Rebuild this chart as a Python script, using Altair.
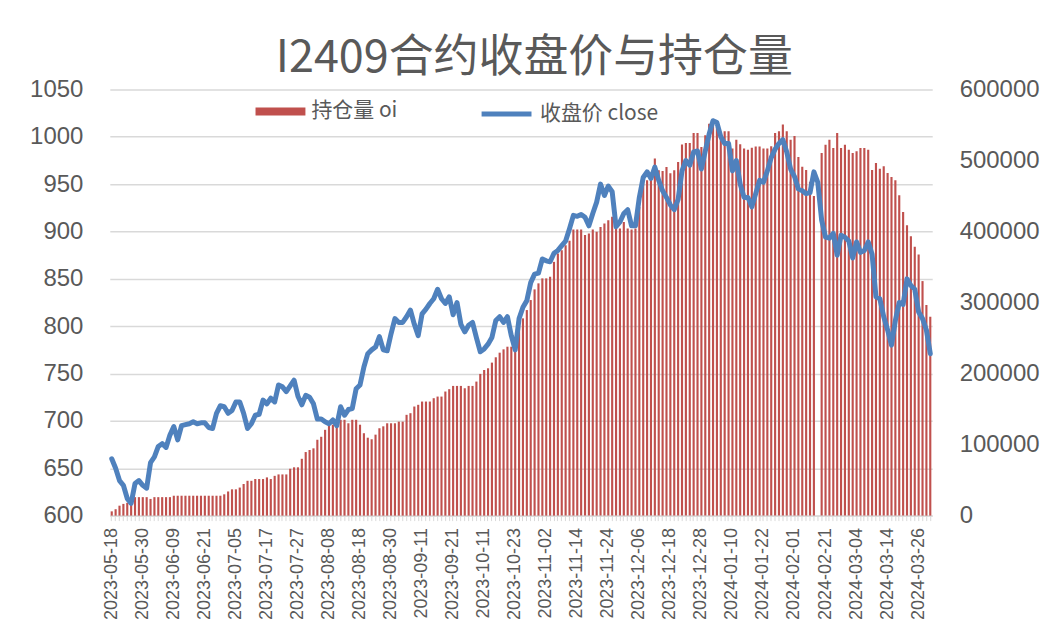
import json
import altair as alt
import pandas as pd

# ---- categories: Chinese futures trading days 2023-05-18 .. 2024-03-29 ----
start_date = "2023-05-18"
end_date = "2024-03-29"
holidays = ["2023-06-22", "2023-06-23", "2023-09-29", "2023-10-02", "2023-10-03",
            "2023-10-04", "2023-10-05", "2023-10-06", "2024-01-01", "2024-02-09",
            "2024-02-12", "2024-02-13", "2024-02-14", "2024-02-15", "2024-02-16"]
dates = [d.strftime("%Y-%m-%d") for d in pd.bdate_range(start_date, end_date)
         if d.strftime("%Y-%m-%d") not in holidays]

label_dates = ["2023-05-18", "2023-05-30", "2023-06-09", "2023-06-21", "2023-07-05",
               "2023-07-17", "2023-07-27", "2023-08-08", "2023-08-18", "2023-08-30",
               "2023-09-11", "2023-09-21", "2023-10-11", "2023-10-23", "2023-11-02",
               "2023-11-14", "2023-11-24", "2023-12-06", "2023-12-18", "2023-12-28",
               "2024-01-10", "2024-01-22", "2024-02-01", "2024-02-21", "2024-03-04",
               "2024-03-14", "2024-03-26"]

# ---- series: closing price (left axis) ----
close = [
    660, 650, 637, 632, 618, 613, 634, 637, 632, 629,
    656, 662, 673, 676, 672, 685, 694, 680, 695, 696,
    697, 699, 697, 698, 698, 693, 692, 708, 716, 715,
    708, 711, 720, 720, 708, 692, 697, 706, 707, 722,
    718, 724, 720, 738, 736, 731, 737, 743, 726, 717,
    727, 725, 718, 702, 702, 699, 697, 701, 695, 715,
    706, 712, 713, 734, 738, 757, 771, 775, 778, 789,
    775, 774, 792, 808, 804, 804, 810, 817, 802, 790,
    813, 818, 824, 829, 839, 829, 824, 831, 812, 825,
    802, 794, 801, 804, 788, 773, 776, 781, 788, 806,
    810, 804, 810, 790, 775, 808, 820, 827, 846, 855,
    856, 871, 869, 868, 877, 880, 885, 890, 903, 917,
    916, 918, 915, 906, 919, 931, 950, 938, 948, 942,
    905, 910, 919, 923, 906, 906, 936, 957, 963, 956,
    968, 954, 943, 936, 928, 923, 934, 964, 975, 970,
    984, 985, 966, 985, 1003, 1017, 1015, 1000, 993, 993,
    964, 975, 950, 936, 936, 926, 940, 954, 952, 964,
    978, 987, 993, 997, 984, 966, 958, 945, 943, 940,
    941, 963, 952, 912, 894, 893, 898, 875, 896, 894,
    890, 872, 889, 878, 880, 889, 876, 831, 829, 810,
    796, 780, 806, 825, 823, 850, 843, 839, 815, 808,
    796, 771,
]

# ---- series: open interest (right axis) ----
oi = [
    6000, 9000, 14000, 16500, 18000, 18500, 26000, 26000, 26000, 26000,
    23500, 26000, 26000, 26000, 26000, 26000, 28000, 28000, 28000, 28000,
    28000, 28000, 28000, 28000, 28000, 28000, 28000, 28000, 28000, 30000,
    34000, 37000, 37000, 39500, 44500, 49000, 49000, 51500, 51500, 51500,
    53800, 51500, 56000, 58000, 58000, 58000, 66000, 68000, 68000, 80000,
    89500, 92400, 94700, 106800, 111000, 120800, 126400, 128000, 125700, 134900,
    134900, 130000, 134900, 134900, 128000, 116000, 109700, 107500, 114000, 123000,
    125700, 130000, 130000, 130000, 132300, 132300, 141900, 144200, 153600, 156000,
    160600, 160600, 160600, 165300, 167600, 167600, 174700, 178000, 182600, 182600,
    182600, 179300, 182600, 182600, 188700, 199500, 205000, 207400, 215400, 222900,
    229400, 234100, 237800, 237800, 242600, 266000, 277700, 289400, 303500, 318500,
    327000, 334000, 334000, 336300, 357300, 369000, 373700, 380800, 386800, 402800,
    402800, 402800, 394900, 397200, 402800, 399500, 406500, 411200, 415900, 420600,
    404200, 404200, 413500, 404200, 402800, 404200, 434600, 472000, 472000, 476700,
    502600, 486100, 485000, 490800, 482000, 486100, 498000, 522500, 524600, 524600,
    538600, 538600, 519000, 535400, 551600, 555000, 547000, 540000, 541000, 541000,
    516700, 529300, 522700, 517000, 515200, 518000, 519500, 519500, 517000, 517000,
    520000, 538600, 541000, 550800, 541000, 529300, 534500, 504800, 491200, 486500,
    470000, 450000, None, 510500, 522200, 529300, 517500, 538600, 517500, 522200,
    515200, 510500, 512900, 517500, 517500, 515200, 486600, 496400, 488400, 491700,
    482400, 476700, 472000, 451000, 427600, 408800, 393400, 378400, 367600, 330200,
    296500, 280000,
]

left_ticks = [600, 650, 700, 750, 800, 850, 900, 950, 1000, 1050]
right_ticks = [0, 100000, 200000, 300000, 400000, 500000, 600000]
oi_name = "持仓量 oi"
close_name = "收盘价 close"
title_text = "I2409合约收盘价与持仓量"

df = pd.DataFrame({"date": dates, "close": close, "oi": oi})

GRAY = "#595959"
GRID = "#D9D9D9"
label_expr = "indexof(" + json.dumps(label_dates) + ", datum.label) >= 0 ? datum.label : ''"

base = alt.Chart(df).encode(
    x=alt.X(
        "date:N", sort=dates,
        scale=alt.Scale(domain=dates, paddingInner=0.45, paddingOuter=0.225),
        axis=alt.Axis(
            title=None, labelAngle=270, labelAlign="right", labelBaseline="middle",
            labelExpr=label_expr, labelOverlap=False, labelFont="Liberation Sans",
            labelFontSize=18, labelColor=GRAY, labelPadding=7,
            tickColor=GRID, tickSize=5, domainColor=GRID, grid=False,
        ),
    )
)

bars = base.mark_bar().encode(
    y=alt.Y(
        "oi:Q", scale=alt.Scale(domain=[0, 600000]),
        axis=alt.Axis(orient="right", values=right_ticks, format="d", grid=False,
                      title=None, domain=False, ticks=False, labelFont="Liberation Sans",
                      labelFontSize=24, labelColor=GRAY, labelPadding=27),
    ),
    fill=alt.Fill(
        "s1:N", scale=alt.Scale(domain=[oi_name], range=["#C0504D"]),
        legend=alt.Legend(
            orient="none", legendX=146, legendY=-3, title=None,
            symbolType="M-1,-0.16H1V0.16H-1Z", symbolSize=2500, symbolStrokeWidth=0,
            labelFont="Noto Sans CJK SC", labelFontSize=21, labelColor=GRAY,
            labelOffset=6, padding=0,
        ),
    ),
).transform_calculate(s1="'" + oi_name + "'")

line = base.mark_line(strokeWidth=5, strokeJoin="round", strokeCap="round").encode(
    y=alt.Y(
        "close:Q", scale=alt.Scale(domain=[600, 1050], zero=False),
        axis=alt.Axis(orient="left", values=left_ticks, format="d", grid=True,
                      gridColor=GRID, gridWidth=1.5, title=None, domain=False, ticks=False,
                      labelFont="Liberation Sans", labelFontSize=24, labelColor=GRAY,
                      labelPadding=27),
    ),
    stroke=alt.Stroke(
        "s2:N", scale=alt.Scale(domain=[close_name], range=["#4F81BD"]),
        legend=alt.Legend(
            orient="none", legendX=370, legendY=-3, title=None,
            symbolType="stroke", symbolSize=2500, symbolStrokeWidth=5,
            labelFont="Noto Sans CJK SC", labelFontSize=21, labelColor=GRAY,
            labelOffset=6, padding=0,
        ),
    ),
).transform_calculate(s2="'" + close_name + "'")

chart = (
    alt.layer(bars, line)
    .resolve_scale(y="independent")
    .properties(
        width=824, height=427,
        title=alt.Title(title_text, font="Noto Sans CJK SC", fontSize=45,
                        fontWeight="normal", color=GRAY, anchor="middle",
                        frame="bounds", offset=-4),
        padding={"left": 21, "top": 28, "right": 5, "bottom": 5},
    )
    .configure_view(stroke=None)
)

chart.save("out.html", embed_options={"renderer": "svg", "actions": False})
